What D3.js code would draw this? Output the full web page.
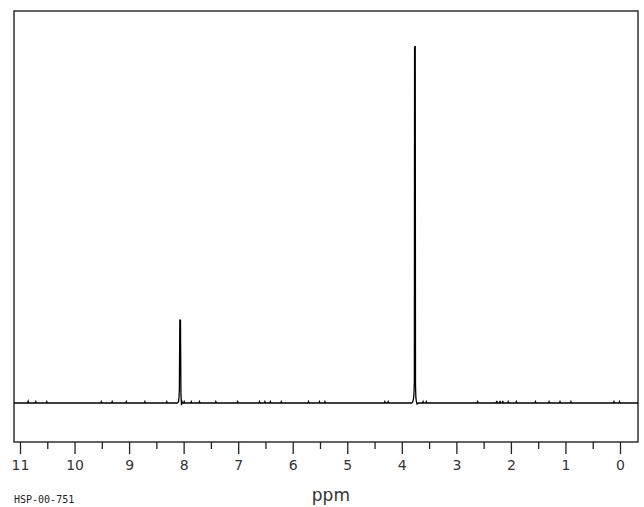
<!DOCTYPE html>
<html>
<head>
<meta charset="utf-8">
<script src="https://cdn.jsdelivr.net/npm/d3@7"></script>
<style>
  html, body { margin: 0; padding: 0; background: #fff; }
  svg { display: block; }
</style>
</head>
<body>
<svg id="chart" width="644" height="507"></svg>
<script>
// ---- data ----
const majorTicks = [11, 10, 9, 8, 7, 6, 5, 4, 3, 2, 1, 0];
const minorTicks = [10.5, 9.5, 8.5, 7.5, 6.5, 5.5, 4.5, 3.5, 2.5, 1.5, 0.5];
const xLabel = "ppm";
const codeLabel = "HSP-00-751";
// spectrum trace: chemical shift (ppm) and relative intensity
const spectrumPpm = [
  11.11, 10.86, 10.85, 10.84, 10.72, 10.71, 10.70, 10.52, 10.51, 10.50,
  9.52, 9.51, 9.50, 9.32, 9.31, 9.30, 9.06, 9.05, 9.04, 8.72, 8.71, 8.70,
  8.32, 8.31, 8.30, 8.12, 8.095, 8.085, 8.078, 8.070, 8.058, 8.050, 8.040, 8.030,
  8.02, 8.00, 7.99, 7.98, 7.87, 7.86, 7.85, 7.72, 7.71, 7.70,
  7.42, 7.41, 7.40, 7.02, 7.01, 7.00, 6.62, 6.61, 6.60, 6.52, 6.51, 6.50,
  6.42, 6.41, 6.40, 6.22, 6.21, 6.20, 5.72, 5.71, 5.70, 5.52, 5.51, 5.50,
  5.42, 5.41, 5.40, 4.32, 4.31, 4.30, 4.26, 4.25, 4.24,
  3.82, 3.80, 3.785, 3.778, 3.770, 3.766, 3.754, 3.749, 3.742, 3.732, 3.72, 3.70,
  3.62, 3.61, 3.60, 3.56, 3.55, 3.54, 2.62, 2.61, 2.60, 2.27, 2.26, 2.25,
  2.21, 2.20, 2.19, 2.16, 2.15, 2.14, 2.06, 2.05, 2.04, 1.91, 1.90, 1.89,
  1.56, 1.55, 1.54, 1.31, 1.30, 1.29, 1.11, 1.10, 1.09, 0.91, 0.90, 0.89,
  0.12, 0.11, 0.10, 0.02, 0.01, 0.00, -0.33
];
const spectrumInt = [
  0, 0, 0.5, 0, 0, 0.4, 0, 0, 0.4, 0,
  0, 0.4, 0, 0, 0.4, 0, 0, 0.4, 0, 0, 0.4, 0,
  0, 0.4, 0, 0, 0.3, 1.5, 4, 23.2, 23.2, 3, -0.6, 0.4,
  0, 0, 0.4, 0, 0, 0.4, 0, 0, 0.4, 0,
  0, 0.4, 0, 0, 0.4, 0, 0, 0.4, 0, 0, 0.4, 0,
  0, 0.4, 0, 0, 0.4, 0, 0, 0.4, 0, 0, 0.4, 0,
  0, 0.4, 0, 0, 0.4, 0, 0, 0.4, 0,
  0, 0.3, 1.2, 2.5, 6, 99.6, 100, 5, 1.5, 0.3, -0.3, 0,
  0, 0.4, 0, 0, 0.4, 0, 0, 0.4, 0, 0, 0.6, 0,
  0, 0.6, 0, 0, 0.6, 0, 0, 0.4, 0, 0, 0.4, 0,
  0, 0.4, 0, 0, 0.4, 0, 0, 0.4, 0, 0, 0.4, 0,
  0, 0.4, 0, 0, 0.4, 0, 0
];

// ---- layout ----
const frame = { left: 14, top: 11, right: 638, bottom: 442 };
const svg = d3.select("#chart");

const x = d3.scaleLinear().domain([11.11, -0.33]).range([frame.left, frame.right]);
const y = d3.scaleLinear().domain([0, 100]).range([403, 46]);

// frame
svg.append("rect")
  .attr("x", frame.left).attr("y", frame.top)
  .attr("width", frame.right - frame.left)
  .attr("height", frame.bottom - frame.top)
  .attr("fill", "none").attr("stroke", "#222").attr("stroke-width", 1.4);

// spectrum line
const pts = spectrumPpm.map((p, i) => [p, spectrumInt[i]]);
svg.append("path")
  .datum(pts)
  .attr("fill", "none")
  .attr("stroke", "#000")
  .attr("stroke-width", 1.3)
  .attr("d", d3.line().x(d => x(d[0])).y(d => y(d[1])));

// axis
const axisG = svg.append("g").attr("transform", `translate(0,${frame.bottom})`);
axisG.call(d3.axisBottom(x).tickValues(majorTicks).tickSize(12).tickPadding(6)
  .tickFormat(d3.format("d")));
axisG.select(".domain").remove();
axisG.selectAll(".tick line").attr("stroke", "#222").attr("stroke-width", 1.3);
axisG.selectAll(".tick text")
  .attr("font-family", "DejaVu Sans, sans-serif")
  .attr("font-size", 14)
  .attr("fill", "#333");

const minorG = svg.append("g").attr("transform", `translate(0,${frame.bottom})`);
minorG.call(d3.axisBottom(x).tickValues(minorTicks).tickSize(7).tickFormat(""));
minorG.select(".domain").remove();
minorG.selectAll(".tick line").attr("stroke", "#222").attr("stroke-width", 1.3);

// labels
svg.append("text")
  .attr("x", x(5.3)).attr("y", 501)
  .attr("text-anchor", "middle")
  .attr("font-family", "DejaVu Sans, sans-serif")
  .attr("font-size", 17)
  .attr("fill", "#333")
  .text(xLabel);

svg.append("text")
  .attr("x", 14).attr("y", 503)
  .attr("font-family", "DejaVu Sans Mono, monospace")
  .attr("font-size", 10)
  .attr("fill", "#222")
  .text(codeLabel);
</script>
</body>
</html>
